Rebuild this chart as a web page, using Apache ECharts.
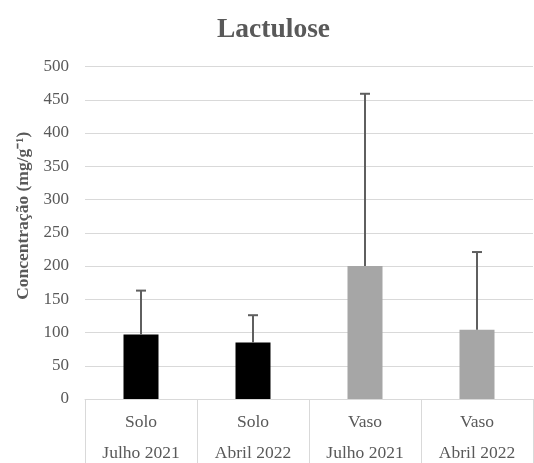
<!DOCTYPE html>
<html>
<head>
<meta charset="utf-8">
<script src="https://cdn.jsdelivr.net/npm/echarts@6/dist/echarts.min.js"></script>
<style>
  html, body { margin: 0; padding: 0; background: #fff; }
  #chart { width: 534px; height: 463px; }
</style>
</head>
<body>
<div id="chart"></div>
<script>
// Lactulose concentration by site and sampling date
const sites = ['Solo', 'Solo', 'Vaso', 'Vaso'];
const dates = ['Julho 2021', 'Abril 2022', 'Julho 2021', 'Abril 2022'];
const means = [97, 85, 200, 104];
const upperErrors = [66, 41, 259, 117];
const yTicks = { min: 0, max: 500, step: 50 };

const siteColors = { Solo: '#000000', Vaso: '#a6a6a6' };
const textColor = '#595959';
const lineColor = '#d9d9d9';
const fontFamily = '"Liberation Serif", "Times New Roman", serif';

const categories = sites.map((s, i) => s + '|' + dates[i]);

const chart = echarts.init(document.getElementById('chart'));

chart.setOption({
  animation: false,
  title: {
    text: 'Lactulose',
    left: 212,
    top: 11,
    textStyle: { fontFamily, fontSize: 27.5, fontWeight: 'bold', color: textColor }
  },
  grid: {
    left: 85, right: 1, top: 66.5, bottom: 64,
    containLabel: false,
    outerBoundsMode: 'none'
  },
  xAxis: {
    type: 'category',
    data: categories,
    axisLine: { lineStyle: { color: lineColor, width: 1 } },
    axisTick: { show: true, interval: 0, length: 66, lineStyle: { color: lineColor } },
    axisLabel: {
      interval: 0,
      margin: 8,
      fontFamily,
      fontSize: 17.5,
      color: textColor,
      lineHeight: 31,
      formatter: v => v.split('|').join('\n')
    }
  },
  yAxis: {
    type: 'value',
    min: yTicks.min,
    max: yTicks.max,
    interval: yTicks.step,
    name: 'Concentração (mg/g⁻¹)',
    nameLocation: 'middle',
    nameRotate: 90,
    nameGap: 50,
    nameTextStyle: {
      fontFamily, fontSize: 17.5, fontWeight: 'bold', color: textColor,
      padding: [0, 0, 0, 34]
    },
    axisLine: { show: false },
    axisTick: { show: false },
    axisLabel: { margin: 16, fontFamily, fontSize: 17, color: textColor },
    splitLine: { lineStyle: { color: lineColor, width: 1 } }
  },
  series: [
    {
      type: 'bar',
      barWidth: 35,
      data: means.map((v, i) => ({ value: v, itemStyle: { color: siteColors[sites[i]] } }))
    },
    {
      type: 'custom',
      z: 5,
      data: means.map((v, i) => [i, v, v + upperErrors[i]]),
      renderItem: (params, api) => {
        const base = api.coord([api.value(0), api.value(1)]);
        const top = api.coord([api.value(0), api.value(2)]);
        const half = 5;
        const style = { stroke: '#5f5f5f', lineWidth: 2 };
        return {
          type: 'group',
          children: [
            { type: 'line', shape: { x1: base[0], y1: base[1], x2: top[0], y2: top[1] }, style },
            { type: 'line', shape: { x1: top[0] - half, y1: top[1], x2: top[0] + half, y2: top[1] }, style }
          ]
        };
      }
    }
  ]
});
</script>
</body>
</html>
